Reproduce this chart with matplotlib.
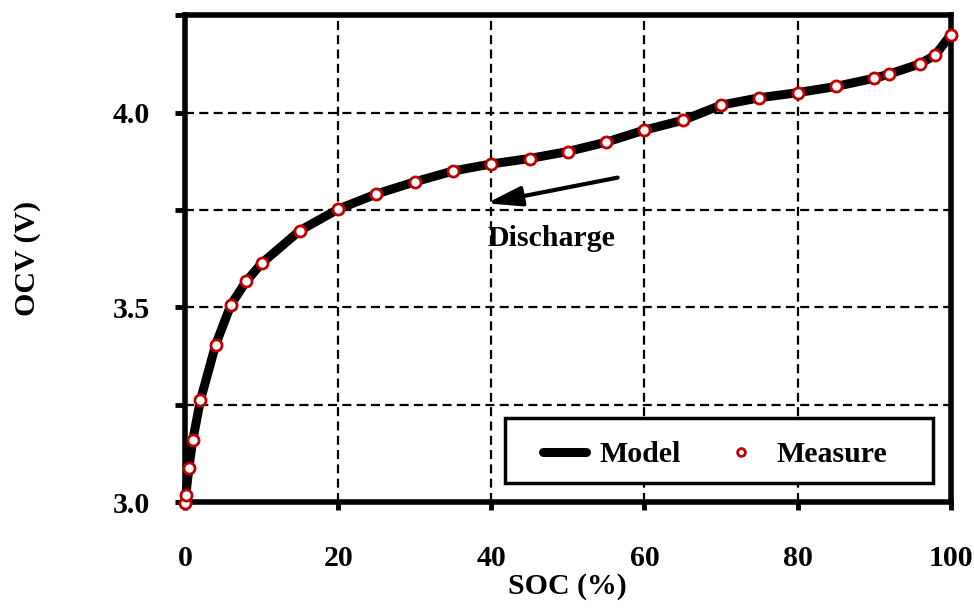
import matplotlib
matplotlib.use("Agg")
import matplotlib.pyplot as plt
from matplotlib.patches import Rectangle
from matplotlib.ticker import FixedLocator, NullFormatter

# State of charge (%) and open-circuit voltage (V)
soc = [0, 0.1, 0.5, 1, 2, 4, 6, 8, 10, 15, 20, 25, 30, 35, 40, 45, 50,
       55, 60, 65, 70, 75, 80, 85, 90, 92, 96, 98, 100]
ocv_measure = [2.997, 3.017, 3.088, 3.158, 3.261, 3.404, 3.507, 3.567, 3.613,
               3.697, 3.752, 3.791, 3.822, 3.850, 3.868, 3.882, 3.900,
               3.924, 3.955, 3.980, 4.019, 4.038, 4.051, 4.067, 4.088,
               4.099, 4.125, 4.148, 4.199]
ocv_model = ocv_measure

x_ticks = [0, 20, 40, 60, 80, 100]
y_ticks = [3.0, 3.5, 4.0]
y_minor = [3.25, 3.75, 4.25]

plt.rcParams['font.family'] = ['Liberation Serif', 'DejaVu Serif']
plt.rcParams['font.weight'] = 'bold'
FS = 21.5

fig = plt.figure(figsize=(9.74, 6.08), dpi=100)
ax = fig.add_axes([0.19, 0.1743, 0.786, 0.8007])

red = '#c00000'
ax.plot(soc, ocv_model, color='black', lw=6.5, solid_capstyle='round',
        solid_joinstyle='round', label='Model', zorder=3, clip_on=False)
ax.plot(soc, ocv_measure, linestyle='none', marker='o', markersize=8,
        markerfacecolor='white', markeredgecolor=red, markeredgewidth=2,
        label='Measure', zorder=6, clip_on=False)

ax.set_xlim(0, 100)
ax.set_ylim(3.0, 4.25)
ax.set_xticks(x_ticks)
ax.set_yticks(y_ticks)
ax.yaxis.set_minor_locator(FixedLocator(y_minor))
ax.yaxis.set_minor_formatter(NullFormatter())

lw_grid = 1.6
ax.grid(True, which='both', color='black', lw=lw_grid,
        linestyle=(0, (6.5 / lw_grid, 3.8 / lw_grid)), zorder=1)
ax.set_axisbelow(True)

for s in ax.spines.values():
    s.set_linewidth(4)
    s.set_zorder(5)

ax.tick_params(axis='x', which='major', direction='out', length=6, width=3.5,
               labelsize=FS, pad=25)
ax.tick_params(axis='y', which='both', direction='out', length=7, width=3.5,
               labelsize=FS, pad=18)
for lab in ax.get_xticklabels() + ax.get_yticklabels():
    lab.set_fontweight('bold')

ax.set_xlabel('SOC (%)', fontsize=FS, fontweight='bold', labelpad=1)
ax.set_ylabel('OCV (V)', fontsize=FS, fontweight='bold', labelpad=52)

ax.annotate('', xy=(39.4, 3.767), xytext=(56.5, 3.833),
            arrowprops=dict(arrowstyle='-|>,head_length=2.1,head_width=0.6',
                            color='black', lw=3, shrinkA=0, shrinkB=0),
            zorder=6)
ax.text(47.9, 3.677, 'Discharge', fontsize=FS, fontweight='bold',
        ha='center', va='center', zorder=6)

# Legend box with generous side padding, entries centred inside it
box = Rectangle((0.418, 0.039), 0.5585, 0.1335, transform=ax.transAxes,
                facecolor='white', edgecolor='black', lw=2.5, zorder=7)
ax.add_patch(box)
leg = ax.legend(loc='center', bbox_to_anchor=(0.692, 0.097), ncol=2,
                fontsize=FS, frameon=False, handlelength=1.45,
                handletextpad=0.45, columnspacing=1.3, borderpad=0,
                borderaxespad=0, markerscale=0.7)
leg.set_zorder(8)
for t in leg.get_texts():
    t.set_fontweight('bold')

fig.savefig('out.png', dpi=100)
